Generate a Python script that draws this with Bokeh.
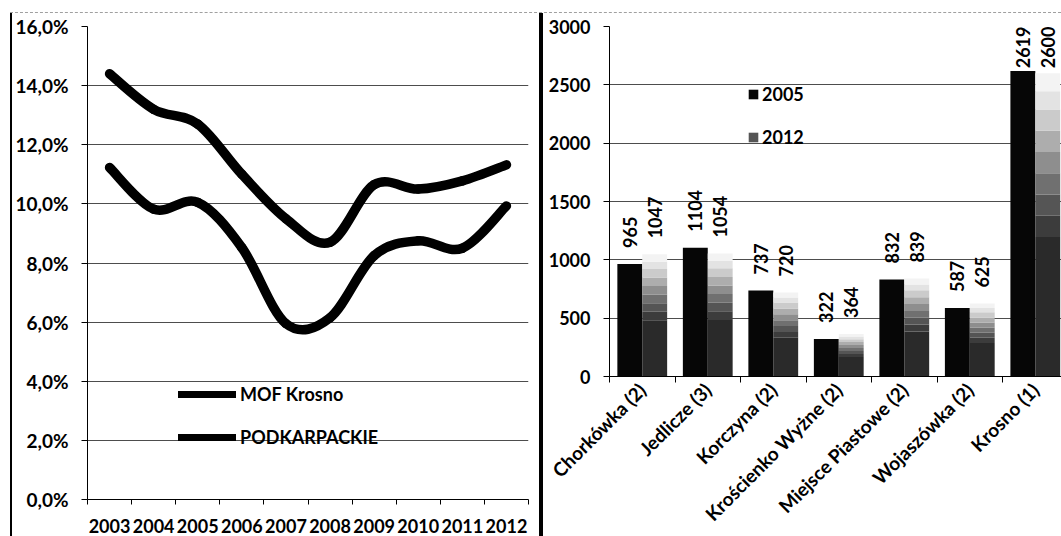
import math
import numpy as np
from jinja2 import Template
from bokeh.plotting import figure
from bokeh.models import Range1d, FixedTicker, Legend, LegendItem, ColumnDataSource
from bokeh.embed import file_html
from bokeh.resources import INLINE
from bokeh.core.properties import value

# ---------------- data ----------------
years = ["2003", "2004", "2005", "2006", "2007", "2008", "2009", "2010", "2011", "2012"]
mof_krosno = [14.4, 13.2, 12.7, 11.0, 9.5, 8.7, 10.65, 10.5, 10.78, 11.32]
podkarpackie = [11.23, 9.82, 10.05, 8.52, 5.95, 6.15, 8.25, 8.75, 8.5, 9.93]
pct_ticks = [0, 2, 4, 6, 8, 10, 12, 14, 16]
pct_tick_labels = ["0,0%", "2,0%", "4,0%", "6,0%", "8,0%", "10,0%", "12,0%", "14,0%", "16,0%"]

gminy = ["Chorkówka (2)", "Jedlicze (3)", "Korczyna (2)", "Krościenko Wyżne (2)",
         "Miejsce Piastowe (2)", "Wojaszówka (2)", "Krosno (1)"]
v2005 = [965, 1104, 737, 322, 832, 587, 2619]
v2012 = [1047, 1054, 720, 364, 839, 625, 2600]
bar_ticks = [0, 500, 1000, 1500, 2000, 2500, 3000]

FONT = "Lato"
GRID = "#4d4d4d"


def style_axis(ax, size):
    ax.axis_line_color = "black"
    ax.axis_line_width = 1
    ax.major_label_text_font = FONT
    ax.major_label_text_font_size = size
    ax.major_label_text_font_style = "bold"
    ax.major_label_text_color = "black"


# ---------------- left: line chart ----------------
p1 = figure(width=527, height=536, x_range=Range1d(-0.5, len(years) - 0.5),
            y_range=Range1d(0, 16), output_backend="svg", toolbar_location=None,
            min_border_left=73, min_border_right=11, min_border_top=26, min_border_bottom=37)
p1.outline_line_color = None
p1.xgrid.visible = False
p1.ygrid.grid_line_color = GRID
p1.ygrid.grid_line_width = 1

xi = list(range(len(years)))
p1.xaxis.ticker = FixedTicker(ticks=xi, minor_ticks=[i - 0.5 for i in range(len(years) + 1)])
p1.xaxis.major_label_overrides = {i: y for i, y in zip(xi, years)}
p1.yaxis.ticker = FixedTicker(ticks=pct_ticks)
p1.yaxis.major_label_overrides = {t: l for t, l in zip(pct_ticks, pct_tick_labels)}

style_axis(p1.xaxis[0], "18px")
style_axis(p1.yaxis[0], "19px")
p1.xaxis.major_tick_out = 0
p1.xaxis.major_tick_in = 0
p1.xaxis.minor_tick_out = 5
p1.xaxis.minor_tick_in = 0
p1.xaxis.minor_tick_line_color = "black"
p1.xaxis.major_label_standoff = 14
p1.yaxis.major_tick_out = 6
p1.yaxis.major_tick_in = 0
p1.yaxis.minor_tick_line_color = None
p1.yaxis.major_tick_line_color = "black"
p1.yaxis.major_label_standoff = 13


def smooth_segments(xs, ys):
    """Cubic Bezier pieces through the data points (smoothed line, like the source)."""
    px = np.asarray(xs, float)
    py = np.asarray(ys, float)
    n = len(px)
    ex = np.concatenate([[px[0]], px, [px[-1]]])
    ey = np.concatenate([[py[0]], py, [py[-1]]])
    return dict(
        x0=px[:-1], y0=py[:-1], x1=px[1:], y1=py[1:],
        cx0=ex[1:n] + (ex[2:n + 1] - ex[0:n - 1]) / 6.0,
        cy0=ey[1:n] + (ey[2:n + 1] - ey[0:n - 1]) / 6.0,
        cx1=ex[2:n + 1] - (ex[3:n + 2] - ex[1:n]) / 6.0,
        cy1=ey[2:n + 1] - (ey[3:n + 2] - ey[1:n]) / 6.0,
    )


for series in (mof_krosno, podkarpackie):
    src = ColumnDataSource(smooth_segments(xi, series))
    p1.bezier(x0="x0", y0="y0", x1="x1", y1="y1", cx0="cx0", cy0="cy0", cx1="cx1", cy1="cy1",
              source=src, line_color="black", line_width=9.5, line_cap="round")

# legend-only renderers (no visible data)
leg_mof = p1.line(x=[np.nan], y=[np.nan], line_color="black", line_width=7, line_cap="round")
leg_pod = p1.line(x=[np.nan], y=[np.nan], line_color="black", line_width=7, line_cap="round")
legend1 = Legend(items=[LegendItem(label="MOF Krosno", renderers=[leg_mof], index=0),
                        LegendItem(label="PODKARPACKIE", renderers=[leg_pod], index=0)],
                 location=(91, 51), orientation="vertical",
                 background_fill_alpha=0, border_line_color=None,
                 padding=0, margin=0, spacing=21, glyph_width=58, glyph_height=20,
                 label_height=20, label_standoff=4,
                 label_text_font=FONT, label_text_font_size="18px",
                 label_text_font_style="bold", label_text_color="black")
p1.add_layout(legend1)

# ---------------- right: bar chart ----------------
ymax = bar_ticks[-1]
p2 = figure(width=518, height=536, x_range=Range1d(0, 6.9), y_range=Range1d(0, ymax),
            output_backend="svg", toolbar_location=None,
            min_border_left=66, min_border_right=0, min_border_top=26, min_border_bottom=160)
p2.outline_line_color = None
p2.xgrid.visible = False
p2.ygrid.grid_line_color = GRID
p2.ygrid.grid_line_width = 1

idx = np.arange(len(gminy))
p2.xaxis.ticker = FixedTicker(ticks=list(idx + 0.5), minor_ticks=list(range(len(gminy) + 1)))
p2.xaxis.major_label_overrides = {float(i) + 0.5: g for i, g in zip(idx, gminy)}
p2.xaxis.major_label_orientation = math.pi / 4
p2.yaxis.ticker = FixedTicker(ticks=bar_ticks)

style_axis(p2.xaxis[0], "19px")
style_axis(p2.yaxis[0], "18px")
p2.xaxis.major_tick_out = 0
p2.xaxis.major_tick_in = 0
p2.xaxis.minor_tick_out = 6
p2.xaxis.minor_tick_in = 0
p2.xaxis.minor_tick_line_color = "black"
p2.xaxis.major_label_standoff = 4
p2.yaxis.major_tick_out = 6
p2.yaxis.major_tick_in = 0
p2.yaxis.minor_tick_line_color = None
p2.yaxis.major_tick_line_color = "black"
p2.yaxis.major_label_standoff = 13

bw = 0.38
x05 = idx + 0.31
x12 = idx + 0.69
r05 = p2.vbar(x=x05, top=v2005, bottom=0, width=bw, fill_color="#060606", line_color=None)

# 2012 bars: gradient fill (dark at the base, fading out towards the top)
bands = [0.0, 0.46, 0.53, 0.60, 0.67, 0.74, 0.81, 0.88, 0.94, 1.0]
band_colors = ["#2a2a2a", "#3c3c3c", "#555555", "#707070", "#8e8e8e", "#adadad",
               "#cbcbcb", "#e3e3e3", "#f3f3f3"]
seg = dict(x=[], bottom=[], top=[], color=[])
for xv, v in zip(x12, v2012):
    for k in range(len(band_colors)):
        seg["x"].append(xv)
        seg["bottom"].append(v * bands[k])
        seg["top"].append(v * bands[k + 1])
        seg["color"].append(band_colors[k])
r12 = p2.vbar(x="x", bottom="bottom", top="top", width=bw, fill_color="color", line_color=None,
              source=ColumnDataSource(seg))

# value labels (vertical), kept inside the plot area
ppu = 350.0 / ymax
lab_px = 18


def label_base(vals):
    out = []
    for v in vals:
        length = len(str(v)) * 0.58 * lab_px
        out.append(min(v + 16 / ppu, ymax - length / ppu))
    return out


for xs, vals in ((x05, v2005), (x12, v2012)):
    p2.text(x=list(xs), y=label_base(vals), text=[str(v) for v in vals], angle=math.pi / 2,
            text_align="left", text_baseline="middle", text_font=value(FONT),
            text_font_size=value(f"{lab_px}px"), text_font_style="bold", text_color="black")

legend2 = Legend(items=[LegendItem(label="2005", renderers=[r05], index=0),
                        LegendItem(label="2012", renderers=[r12], index=2)],
                 location=(138, 228), orientation="vertical",
                 background_fill_alpha=0, border_line_color=None,
                 padding=0, margin=0, spacing=21, glyph_width=12, glyph_height=12,
                 label_height=20, label_standoff=3,
                 label_text_font=FONT, label_text_font_size="18px",
                 label_text_font_style="bold", label_text_color="black")
p2.add_layout(legend2)

# ---------------- page: two panels side by side, with the frame rules ----------------
PAGE = Template("""<!DOCTYPE html>
<html lang="pl">
<head>
<meta charset="utf-8">
<title>{{ title }}</title>
<style>
html, body { margin: 0; padding: 0; background: #ffffff; }
.pane { position: absolute; top: 0; }
.rule { position: absolute; background: #000000; }
.scan { position: absolute; left: 10px; top: 12px; width: 1051px; height: 0;
        border-top: 1px dashed #a0a0a0; }
</style>
{{ bokeh_css if bokeh_css }}
{{ bokeh_js if bokeh_js }}
</head>
<body>
{% for doc in docs %}{% for root in doc.roots %}
<div class="pane" style="left: {{ pane_left[loop.index0] }}px;"><div id="{{ root.elementid }}" style="display: contents;"></div></div>
{% endfor %}{% endfor %}
<div class="scan"></div>
<div class="rule" style="left: 10px; top: 13px; width: 2px; height: 523px;"></div>
<div class="rule" style="left: 539px; top: 13px; width: 4px; height: 523px;"></div>
{{ plot_script | indent(4) }}
</body>
</html>
""")

html = file_html([p1, p2], INLINE, title="Bokeh Plot", template=PAGE,
                 template_variables={"pane_left": [12, 543]})
open("out.html", "w").write(html)
